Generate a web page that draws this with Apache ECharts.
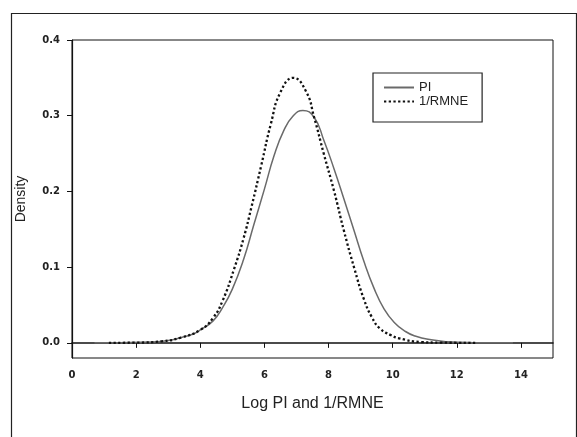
<!DOCTYPE html>
<html>
<head>
<meta charset="utf-8">
<script src="https://cdn.jsdelivr.net/npm/echarts@6/dist/echarts.min.js"></script>
<style>html,body{margin:0;padding:0;background:#fff}#c{width:577px;height:437px}</style>
</head>
<body>
<div id="c"></div>
<script>
var seriesNames = ['PI', '1/RMNE'];
var xTicks = [0, 2, 4, 6, 8, 10, 12, 14];
var yTicks = [0, 0.1, 0.2, 0.3, 0.4];
var piX = [0.7, 1.5, 2.5, 3.0, 3.4, 3.8, 4.0, 4.4, 4.7, 5.0, 5.35, 5.67, 6.0, 6.3, 6.6, 6.9, 7.2, 7.55, 7.85, 8.17, 8.48, 8.79, 9.1, 9.42, 9.73, 10.05, 10.4, 10.7, 11.2, 11.7, 12.5, 13.75];
var piY = [0, 0.0002, 0.001, 0.003, 0.007, 0.012, 0.017, 0.029, 0.047, 0.071, 0.110, 0.156, 0.203, 0.247, 0.280, 0.300, 0.307, 0.298, 0.268, 0.230, 0.190, 0.149, 0.108, 0.072, 0.045, 0.027, 0.015, 0.009, 0.004, 0.0015, 0.0003, 0];
var rmneX = [1.15, 2.0, 2.8, 3.4, 4.0, 4.4, 4.7, 5.05, 5.35, 5.6, 5.9, 6.2, 6.5, 6.9, 7.3, 7.55, 7.85, 8.17, 8.48, 8.8, 9.1, 9.35, 9.6, 9.95, 10.2, 10.9, 11.5, 12.6];
var rmneY = [0, 0.0003, 0.002, 0.007, 0.017, 0.033, 0.056, 0.097, 0.138, 0.180, 0.234, 0.289, 0.331, 0.350, 0.332, 0.298, 0.250, 0.201, 0.148, 0.099, 0.058, 0.034, 0.019, 0.010, 0.006, 0.001, 0.0003, 0];

function pairs(xs, ys) { return xs.map(function (x, i) { return [x, ys[i]]; }); }

var font = 'Liberation Sans, Arial, sans-serif';
var tickFont = 'DejaVu Sans, sans-serif';
var chart = echarts.init(document.getElementById('c'), null, {renderer: 'canvas'});
chart.setOption({
  animation: false,
  backgroundColor: '#fff',
  graphic: [{
    type: 'rect', left: 9, top: 11,
    shape: {width: 565, height: 440},
    style: {fill: null, stroke: '#222', lineWidth: 1.2},
    silent: true, z: 100
  }],
  grid: {left: 72, right: 24, top: 40, bottom: 79, show: true, borderColor: '#111', borderWidth: 1, backgroundColor: 'transparent'},
  legend: {
    left: 373, top: 73, orient: 'vertical',
    borderColor: '#222', borderWidth: 1.2,
    padding: [8, 14, 14, 10], itemGap: 1,
    itemWidth: 30, itemHeight: 14,
    textStyle: {fontFamily: font, fontSize: 13, color: '#222'},
    itemStyle: {opacity: 0},
    data: seriesNames
  },
  xAxis: {
    type: 'value', min: 0, max: 15, interval: 2,
    name: 'Log PI and 1/RMNE', nameLocation: 'middle', nameGap: 38,
    nameTextStyle: {fontFamily: font, fontSize: 16, color: '#222'},
    axisLine: {show: true, lineStyle: {color: '#111', width: 1.5}},
    axisTick: {show: true, inside: false, length: 5, lineStyle: {color: '#111'}, customValues: xTicks},
    axisLabel: {fontFamily: tickFont, fontWeight: 'bold', fontSize: 10, color: '#222', margin: 12, customValues: xTicks},
    splitLine: {show: false}
  },
  yAxis: {
    type: 'value', min: -0.02, max: 0.4,
    name: 'Density', nameLocation: 'middle', nameGap: 44,
    nameTextStyle: {fontFamily: font, fontSize: 14, color: '#222'},
    axisLine: {show: true, lineStyle: {color: '#111', width: 1.2}},
    axisTick: {show: true, inside: false, length: 5, lineStyle: {color: '#111'}, customValues: yTicks},
    axisLabel: {fontFamily: tickFont, fontWeight: 'bold', fontSize: 10, color: '#222', margin: 12, customValues: yTicks,
      formatter: function (v) { return v.toFixed(1); }},
    splitLine: {show: false}
  },
  series: [
    {name: seriesNames[0], type: 'line', data: pairs(piX, piY), showSymbol: false, symbol: 'none',
      smooth: 0.5, lineStyle: {color: '#6a6a6a', width: 1.5, type: 'solid'}, itemStyle: {color: '#6a6a6a'}},
    {name: seriesNames[1], type: 'line', data: pairs(rmneX, rmneY), showSymbol: false, symbol: 'none',
      smooth: 0.5, lineStyle: {color: '#111', width: 2.3, type: [2.3, 2.4]}, itemStyle: {color: '#111'}}
  ]
});
</script>
</body>
</html>
